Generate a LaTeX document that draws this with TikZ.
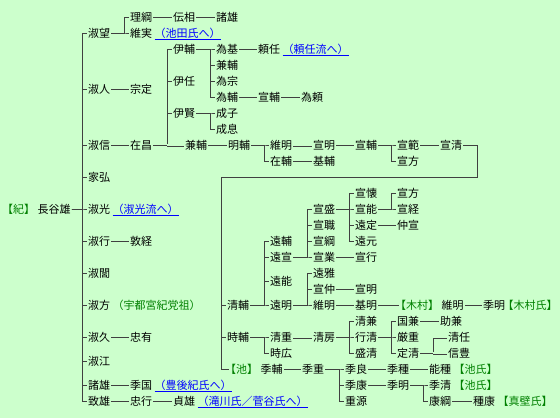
\documentclass[tikz,border=0pt]{standalone}
\usepackage{fontspec}
\setmainfont{Noto Sans CJK JP}
\usetikzlibrary{positioning,calc}
\definecolor{bgGreen}{RGB}{204,255,204}
\definecolor{lineGray}{RGB}{64,64,64}
\definecolor{clanGreen}{RGB}{0,128,0}
\definecolor{linkBlue}{RGB}{0,0,255}
\tikzset{
    nm/.style={anchor=west, inner sep=1pt, text height=10pt, text depth=2pt,
        font=\fontsize{11}{11}\selectfont, text=black},
    clan/.style={nm, text=clanGreen},
    lnk/.style={nm, text=linkBlue},
    tree/.style={draw=lineGray, line width=0.9pt},
    adopt/.style={draw=lineGray, line width=0.8pt, double=bgGreen, double distance=1.4pt},
}
\newcommand{\lnktext}[1]{\underline{#1}}
\newcommand{\clanname}[1]{\kern-5pt【#1】}

\begin{document}
\begin{tikzpicture}[x=1pt, y=-16pt]
\useasboundingbox (0,-1.0625) rectangle (560,25.0625);
\fill[bgGreen] (0,-1.0625) rectangle (560,25.0625);

% Root
\node[clan] (kiClan) at (6,12) {\clanname{紀}};
\node[nm, right=0pt of kiClan] (hasewo) {長谷雄};

% Sons of Hasewo
\node[nm] (yoshimochi) at (87,1) {淑望};
\node[nm] (yoshihito) at (87,4.5) {淑人};
\node[nm] (yoshinobu) at (87,8) {淑信};
\node[nm] (iehiro) at (87,10) {家弘};
\node[nm] (yoshimitsu) at (87,12) {淑光};
\node[nm] (yoshiyuki) at (87,14) {淑行};
\node[nm] (yoshikado) at (87,16) {淑閭};
\node[nm] (yoshikata) at (87,18) {淑方};
\node[nm] (yoshihisa) at (87,20) {淑久};
\node[nm] (yoshie) at (87,21.5) {淑江};
\node[nm] (moroo) at (87,23) {諸雄};
\node[nm] (muneo) at (87,24) {致雄};
\foreach \c in {yoshimochi,yoshihito,yoshinobu,iehiro,yoshimitsu,yoshiyuki,
    yoshikado,yoshikata,yoshihisa,yoshie,moroo,muneo}
    \draw[tree] (hasewo.east) -| ([xshift=-5pt]\c.west) -- (\c.west);

% Yoshimochi line
\node[nm] (masatsuna) at (129,0) {理綱};
\node[nm] (koremi) at (129,1) {維実};
\node[lnk, right=0pt of koremi] (ikedaLink) {\lnktext{（池田氏へ）}};
\node[nm] (tsutasuke) at (172,0) {伝相};
\node[nm] (morooTop) at (215,0) {諸雄};
\foreach \c in {masatsuna,koremi}
    \draw[tree] (yoshimochi.east) -| ([xshift=-5pt]\c.west) -- (\c.west);
\draw[tree] (masatsuna.east) -- (tsutasuke.west);
\draw[tree] (tsutasuke.east) -- (morooTop.west);

\node[nm] (munesada) at (129,4.5) {宗定};
\draw[tree] (yoshihito.east) -- (munesada.west);

% Yoshinobu line
\node[nm] (arimasa) at (129,8) {在昌};
\node[nm] (koresuke) at (172,2) {伊輔};
\node[nm] (koretada) at (172,4) {伊任};
\node[nm] (korekata) at (172,6) {伊賢};
\node[nm] (kanesuke) at (184,8) {兼輔};
\draw[tree] (yoshinobu.east) -- (arimasa.west);
\foreach \c in {koresuke,koretada,korekata}
    \draw[tree] (arimasa.east) -| ([xshift=-5pt]\c.west) -- (\c.west);
\coordinate (arimasaBar) at ([xshift=-5pt]koresuke.west);
\draw[adopt] (arimasaBar |- arimasa.east) -- (kanesuke.west);

\node[nm] (tamemoto) at (215,2) {為基};
\node[nm] (kanesukeA) at (215,3) {兼輔};
\node[nm] (tamemune) at (215,4) {為宗};
\node[nm] (tamesuke) at (215,5) {為輔};
\node[nm] (yorito) at (257,2) {頼任};
\node[lnk, right=0pt of yorito] (yoritoLink) {\lnktext{（頼任流へ）}};
\node[nm] (nobusuke) at (257,5) {宣輔};
\node[nm] (tameyori) at (300,5) {為頼};
\foreach \c in {tamemoto,kanesukeA,tamemune,tamesuke}
    \draw[tree] (koresuke.east) -| ([xshift=-5pt]\c.west) -- (\c.west);
\draw[tree] (tamemoto.east) -- (yorito.west);
\draw[tree] (tamesuke.east) -- (nobusuke.west);
\draw[tree] (nobusuke.east) -- (tameyori.west);

\node[nm] (seishi) at (215,6) {成子};
\node[nm] (seisoku) at (215,7) {成息};
\foreach \c in {seishi,seisoku}
    \draw[tree] (korekata.east) -| ([xshift=-5pt]\c.west) -- (\c.west);

% Kanesuke line
\node[nm] (akisuke) at (227,8) {明輔};
\node[nm] (koreaki) at (269,8) {維明};
\node[nm] (arisuke) at (269,9) {在輔};
\node[nm] (noriaki) at (312,8) {宣明};
\node[nm] (motosuke) at (312,9) {基輔};
\node[nm] (norisuke) at (354,8) {宣輔};
\node[nm] (norinori) at (396,8) {宣範};
\node[nm] (norikata) at (396,9) {宣方};
\node[nm] (norikiyo) at (439,8) {宣清};
\draw[tree] (kanesuke.east) -- (akisuke.west);
\foreach \c in {koreaki,arisuke}
    \draw[tree] (akisuke.east) -| ([xshift=-5pt]\c.west) -- (\c.west);
\draw[adopt] (koreaki.east) -- (noriaki.west);
\draw[tree] (arisuke.east) -- (motosuke.west);
\draw[tree] (noriaki.east) -- (norisuke.west);
\foreach \c in {norinori,norikata}
    \draw[tree] (norisuke.east) -| ([xshift=-5pt]\c.west) -- (\c.west);
\draw[tree] (norinori.east) -- (norikiyo.west);

% Other sons
\node[lnk, right=0pt of yoshimitsu] (yoshimitsuLink) {\lnktext{（淑光流へ）}};
\node[nm] (atsutsune) at (129,14) {敦経};
\node[clan, right=0pt of yoshikata] (utsunomiya) {（宇都宮紀党祖）};
\node[nm] (tadaari) at (129,20) {忠有};
\node[nm] (suekuni) at (129,23) {季国};
\node[lnk, right=0pt of suekuni] (bungoLink) {\lnktext{（豊後紀氏へ）}};
\node[nm] (tadayuki) at (129,24) {忠行};
\node[nm] (sadao) at (172,24) {貞雄};
\node[lnk, right=0pt of sadao] (takigawaLink) {\lnktext{（滝川氏／菅谷氏へ）}};
\draw[tree] (yoshiyuki.east) -- (atsutsune.west);
\draw[tree] (yoshihisa.east) -- (tadaari.west);
\draw[tree] (moroo.east) -- (suekuni.west);
\draw[tree] (muneo.east) -- (tadayuki.west);
\draw[tree] (tadayuki.east) -- (sadao.west);

% Sons of Norikiyo
\node[nm] (kiyosuke) at (226,18) {清輔};
\node[nm] (tokisuke) at (226,20) {時輔};
\node[clan] (ikeClan) at (229,22) {\clanname{池}};
\node[nm, right=0pt of ikeClan] (suesuke) {季輔};
\coordinate (kiyoBar) at ([xshift=-5pt]kiyosuke.west);
\draw[tree] (norikiyo.east) -- ++(14,0) |- (kiyoBar |- iehiro.west)
    -- (kiyoBar |- ikeClan.west);
\foreach \c in {kiyosuke,tokisuke,ikeClan}
    \draw[tree] (kiyoBar |- \c.west) -- (\c.west);

% Kiyosuke line
\node[nm] (toosuke) at (269,14) {遠輔};
\node[nm] (toonori) at (269,15) {遠宣};
\node[nm] (tooyoshi) at (269,16.5) {遠能};
\node[nm] (tooaki) at (269,18) {遠明};
\foreach \c in {toosuke,toonori,tooyoshi,tooaki}
    \draw[tree] (kiyosuke.east) -| ([xshift=-5pt]\c.west) -- (\c.west);

\node[nm] (norimori) at (312,12) {宣盛};
\node[nm] (norimoto) at (312,13) {宣職};
\node[nm] (noritsuna) at (312,14) {宣綱};
\node[nm] (norinari) at (312,15) {宣業};
\foreach \c in {norimori,norimoto,noritsuna,norinari}
    \draw[tree] (toonori.east) -| ([xshift=-5pt]\c.west) -- (\c.west);

\node[nm] (norikane) at (354,11) {宣懐};
\node[nm] (noriyoshi) at (354,12) {宣能};
\node[nm] (toosada) at (354,13) {遠定};
\node[nm] (toomoto) at (354,14) {遠元};
\node[nm] (noriyuki) at (354,15) {宣行};
\foreach \c in {norikane,noriyoshi,toosada,toomoto}
    \draw[tree] (norimori.east) -| ([xshift=-5pt]\c.west) -- (\c.west);
\draw[tree] (norinari.east) -- (noriyuki.west);

\node[nm] (norikata2) at (396,11) {宣方};
\node[nm] (noritsune) at (396,12) {宣経};
\node[nm] (nakanori) at (396,13) {仲宣};
\foreach \c in {norikata2,noritsune}
    \draw[tree] (noriyoshi.east) -| ([xshift=-5pt]\c.west) -- (\c.west);
\draw[tree] (toosada.east) -- (nakanori.west);

\node[nm] (toomasa) at (312,16) {遠雅};
\node[nm] (norinaka) at (312,17) {宣仲};
\node[nm] (koreaki2) at (312,18) {維明};
\node[nm] (noriaki2) at (354,17) {宣明};
\node[nm] (motoaki) at (354,18) {基明};
\node[clan] (kimuraClan) at (399,18) {\clanname{木村}};
\node[nm, right=0pt of kimuraClan] (koreaki3) {維明};
\node[nm] (sueaki) at (482,18) {季明};
\node[clan, right=0pt of sueaki] (kimuraShi) {\clanname{木村氏}};
\foreach \c in {toomasa,norinaka,koreaki2}
    \draw[tree] (tooaki.east) -| ([xshift=-5pt]\c.west) -- (\c.west);
\draw[tree] (norinaka.east) -- (noriaki2.west);
\draw[tree] (koreaki2.east) -- (motoaki.west);
\draw[tree] (motoaki.east) -- (kimuraClan.west);
\draw[tree] (koreaki3.east) -- (sueaki.west);

% Tokisuke line
\node[nm] (kiyoshige) at (269,20) {清重};
\node[nm] (tokihiro) at (269,21) {時広};
\node[nm] (kiyofusa) at (312,20) {清房};
\foreach \c in {kiyoshige,tokihiro}
    \draw[tree] (tokisuke.east) -| ([xshift=-5pt]\c.west) -- (\c.west);
\draw[adopt] (kiyoshige.east) -- (kiyofusa.west);

\node[nm] (kiyokane) at (354,19) {清兼};
\node[nm] (yukikiyo) at (354,20) {行清};
\node[nm] (morikiyo) at (354,21) {盛清};
\foreach \c in {kiyokane,yukikiyo,morikiyo}
    \draw[tree] (kiyofusa.east) -| ([xshift=-5pt]\c.west) -- (\c.west);

\node[nm] (kunikane) at (396,19) {国兼};
\node[nm] (itsushige) at (396,20) {厳重};
\node[nm] (sadakiyo) at (396,21) {定清};
\node[nm] (sukekane) at (439,19) {助兼};
\node[nm] (kiyoto) at (447,20) {清任};
\node[nm] (nobutoyo) at (447,21) {信豊};
\foreach \c in {kunikane,itsushige,sadakiyo}
    \draw[tree] (yukikiyo.east) -| ([xshift=-5pt]\c.west) -- (\c.west);
\draw[tree] (kunikane.east) -- (sukekane.west);
\draw[tree] (sadakiyo.east) -- ++(13,0) coordinate (sadaBar) -- (sadaBar |- kiyoto.west);
\draw[adopt] (sadaBar |- kiyoto.west) -- (kiyoto.west);
\draw[adopt] (sadaBar) -- (nobutoyo.west);

% Ike line
\node[nm] (sueshige) at (301,22) {季重};
\node[nm] (sueyoshi) at (344,22) {季良};
\node[nm] (sueyasu) at (344,23) {季康};
\node[nm] (chogen) at (344,24) {重源};
\draw[tree] (suesuke.east) -- (sueshige.west);
\foreach \c in {sueyoshi,sueyasu,chogen}
    \draw[tree] (sueshige.east) -| ([xshift=-5pt]\c.west) -- (\c.west);

\node[nm] (suetane) at (386,22) {季種};
\node[nm] (yoshitane) at (428,22) {能種};
\node[clan, right=0pt of yoshitane] (ikeShiA) {【池氏】};
\node[nm] (sueaki2) at (386,23) {季明};
\node[nm] (suekiyo) at (428,23) {季清};
\node[clan, right=0pt of suekiyo] (ikeShiB) {【池氏】};
\node[nm] (yasutsuna) at (428,24) {康綱};
\node[nm] (taneyasu) at (472,24) {種康};
\node[clan, right=0pt of taneyasu] (makabeShi) {【真壁氏】};
\draw[tree] (sueyoshi.east) -- (suetane.west);
\draw[tree] (suetane.east) -- (yoshitane.west);
\draw[tree] (sueyasu.east) -- (sueaki2.west);
\foreach \c in {suekiyo,yasutsuna}
    \draw[tree] (sueaki2.east) -| ([xshift=-5pt]\c.west) -- (\c.west);
\draw[tree] (yasutsuna.east) -- (taneyasu.west);

\end{tikzpicture}
\end{document}
